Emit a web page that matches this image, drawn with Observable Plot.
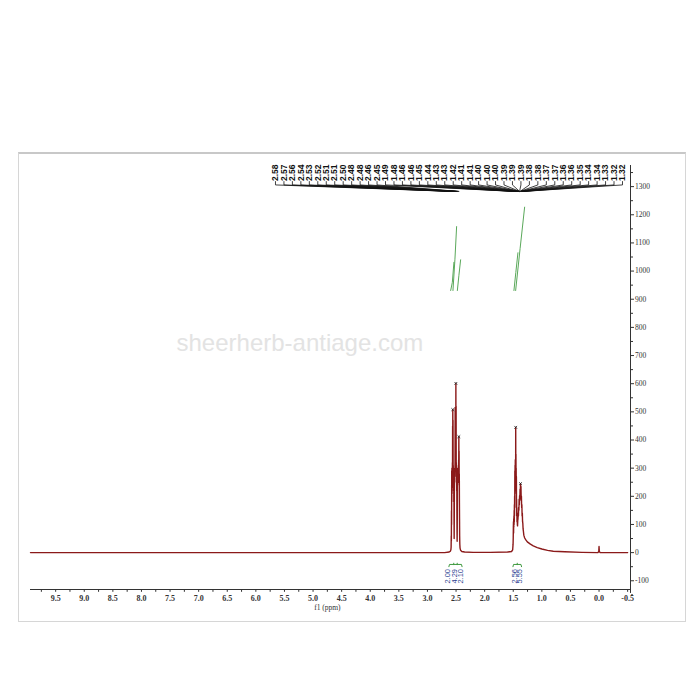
<!DOCTYPE html>
<html><head><meta charset="utf-8">
<script src="https://cdn.jsdelivr.net/npm/d3@7"></script>
<script src="https://cdn.jsdelivr.net/npm/@observablehq/plot@0.6"></script>
<style>
body{margin:0;background:#fff;}
#wrap{position:relative;width:700px;height:700px;overflow:hidden;color:#333;}
#frame{position:absolute;left:18px;top:152px;width:666px;height:467px;border:1px solid #d6d6d6;border-top:2px solid #c8c8c8;pointer-events:none;}
</style></head><body><div id="wrap"></div>
<script>
// ---- data ----
const watermark = "sheerherb-antiage.com";
const xTickValues = [9.5, 9.0, 8.5, 8.0, 7.5, 7.0, 6.5, 6.0, 5.5, 5.0, 4.5, 4.0, 3.5, 3.0, 2.5, 2.0, 1.5, 1.0, 0.5, 0.0, -0.5];
const yTickValues = [-100, 0, 100, 200, 300, 400, 500, 600, 700, 800, 900, 1000, 1100, 1200, 1300];
const peakLabels = ["2.58","2.57","2.56","2.54","2.53","2.52","2.51","2.51","2.50","2.48","2.48","2.46","2.45",
  "1.49","1.48","1.46","1.46","1.45","1.44","1.43","1.43","1.42","1.41","1.41","1.40","1.40","1.40",
  "1.39","1.39","1.39","1.38","1.38","1.37","1.37","1.36","1.36","1.35","1.34","1.34","1.33","1.32","1.32"];
const integralLabels = ["2.00","4.29","2.10","2.56","5.55"];
const integralLabelPpm = [2.64, 2.53, 2.415, 1.48, 1.395];
// spectrum trace [ppm, intensity]
const spectrum = [
  [9.94,0],[5.0,0],[2.70,0],[2.62,2],[2.60,5],[2.59,10],[2.586,20],[2.584,60],[2.582,40],[2.580,150],[2.578,100],
  [2.576,290],[2.574,180],[2.572,300],[2.570,210],[2.568,280],[2.566,230],[2.564,320],[2.562,260],[2.560,450],
  [2.558,280],[2.557,508],[2.555,290],[2.553,470],[2.551,270],[2.549,310],[2.547,250],[2.545,300],[2.543,220],
  [2.541,290],[2.539,180],[2.537,250],[2.535,110],[2.533,50],[2.531,120],[2.529,230],[2.527,260],[2.525,280],
  [2.523,250],[2.521,300],[2.519,270],[2.517,340],[2.515,516],[2.513,300],[2.511,470],[2.509,290],[2.507,350],
  [2.505,300],[2.503,601],[2.501,310],[2.499,520],[2.497,290],[2.495,320],[2.493,270],[2.491,300],[2.489,220],
  [2.487,270],[2.485,150],[2.483,80],[2.481,40],[2.479,90],[2.477,200],[2.475,270],[2.473,240],[2.471,290],
  [2.469,250],[2.467,300],[2.465,260],[2.463,290],[2.461,250],[2.459,310],[2.457,270],[2.455,330],[2.453,300],
  [2.451,412],[2.449,280],[2.447,360],[2.445,250],[2.443,280],[2.441,180],[2.439,120],[2.437,60],[2.434,30],
  [2.430,16],[2.420,8],[2.400,4],[2.350,2],[2.200,1],[1.900,1],[1.600,2],[1.530,4],[1.510,10],[1.503,30],
  [1.500,55],[1.498,90],[1.496,110],[1.494,70],[1.492,120],[1.490,90],[1.488,130],[1.486,100],[1.484,150],
  [1.482,110],[1.480,170],[1.478,130],[1.476,200],[1.474,160],[1.472,290],[1.470,220],[1.468,310],[1.466,240],
  [1.464,330],[1.462,260],[1.460,300],[1.458,280],[1.457,445],[1.455,280],[1.453,350],[1.451,260],[1.449,300],
  [1.447,210],[1.445,270],[1.443,160],[1.441,190],[1.439,130],[1.437,160],[1.434,110],[1.431,130],[1.428,100],
  [1.425,95],[1.421,114],[1.417,120],[1.413,140],[1.409,130],[1.405,160],[1.401,150],[1.397,190],[1.393,170],
  [1.389,202],[1.385,185],[1.381,225],[1.377,210],[1.373,245],[1.369,215],[1.365,235],[1.361,190],[1.357,200],
  [1.353,160],[1.349,170],[1.345,130],[1.341,140],[1.337,110],[1.333,105],[1.328,85],[1.322,75],[1.315,62],
  [1.300,52],[1.280,45],[1.254,38],[1.200,30],[1.150,24],[1.080,18],[1.000,13],[0.900,8],[0.800,5],[0.600,3],
  [0.300,1],[0.020,0],[0.005,4],[0.000,22],[-0.005,4],[-0.020,0],[-0.500,0]
];
const peakTips = [[2.557,508],[2.503,601],[2.451,412],[1.457,445],[1.373,245]];
// integral curves [id, ppm, value]
const integrals = [
  ["a",2.594,931],["a",2.565,960],["a",2.537,1031],
  ["b",2.554,931],["b",2.52,1040],["b",2.490,1158],
  ["c",2.477,931],["c",2.45,985],["c",2.420,1040],
  ["d",1.488,931],["d",1.455,995],["d",1.418,1065],
  ["e",1.458,931],["e",1.38,1080],["e",1.301,1227]
];
// integral brackets [id, ppm, value]
const brackets = [
  ["g1",2.625,-50],["g1",2.615,-42],["g1",2.405,-42],["g1",2.395,-50],
  ["g2",1.505,-50],["g2",1.495,-42],["g2",1.365,-42],["g2",1.355,-50]
];
const bracketMarks = [2.54, 2.48, 1.43];

// ---- layout helpers (positions, not data) ----
const labelPpm = peakLabels.map((d, i) => 5.657 + (-0.41 - 5.657) * i / (peakLabels.length - 1));
const treeRows = peakLabels.flatMap((d, i) => [
  {i, x: labelPpm[i], y: 1318},
  {i, x: labelPpm[i], y: 1306},
  {i, x: +d, y: 1283}
]);
const xMinor = d3.range(-0.5, 9.76, 0.25);
const yMinor = d3.range(-150, 1376, 50).filter(v => v % 100 !== 0);

const chart = Plot.plot({
  width: 700, height: 700,
  marginLeft: 30, marginRight: 70, marginTop: 165, marginBottom: 111,
  x: {domain: [9.94, -0.55], axis: null},
  y: {domain: [-131, 1375], axis: null},
  style: {background: "transparent", overflow: "visible"},
  marks: [
    Plot.text([watermark], {x: 5.23, y: 743, text: d => d, fontSize: 24, fill: "#e3e3e3", fontFamily: "Liberation Sans"}),
    // x axis
    Plot.ruleY([-131], {x1: 9.94, x2: -0.55, stroke: "#333"}),
    Plot.ruleX(xMinor, {x: d => d, y1: -131, y2: -141, stroke: "#333"}),
    Plot.axisX({anchor: "bottom", ticks: xTickValues, tickSize: 0, tickPadding: 6, tickFormat: d => d.toFixed(1),
      fontSize: 8, fontFamily: "Liberation Serif", fontWeight: "bold", label: null}),
    Plot.text(["f1 (ppm)"], {x: 4.75, y: -195, text: d => d, fontSize: 7.5, fontFamily: "Liberation Serif", fill: "#333"}),
    // y axis
    Plot.ruleX([-0.55], {y1: -145, y2: 1375, stroke: "#333"}),
    Plot.axisY({anchor: "right", ticks: yTickValues, tickSize: 3, tickPadding: 1.5,
      tickFormat: d => d < 0 ? "-" + (-d) : String(d), fontSize: 7.5, fontFamily: "Liberation Serif", label: null}),
    Plot.axisY({anchor: "right", ticks: yMinor, tickSize: 2, tickFormat: () => "", label: null}),
    // spectrum
    Plot.line(spectrum, {x: d => d[0], y: d => d[1], stroke: "#8b1a1a", strokeWidth: 1.4}),
    Plot.dot(peakTips, {x: d => d[0], y: d => d[1], symbol: "times", r: 1.4, stroke: "#222", strokeWidth: 0.8}),
    // integrals
    Plot.line(integrals, {x: d => d[1], y: d => d[2], z: d => d[0], stroke: "#5aa85a", strokeWidth: 1}),
    Plot.line(brackets, {x: d => d[1], y: d => d[2], z: d => d[0], stroke: "#3f9a3f", strokeWidth: 1}),
    Plot.ruleX(bracketMarks, {x: d => d, y1: -38, y2: -46, stroke: "#3f9a3f"}),
    Plot.text(integralLabels, {x: (d, i) => integralLabelPpm[i], y: -110, text: d => d, rotate: -90, textAnchor: "start",
      fontSize: 7.5, fontFamily: "Liberation Sans", fill: "#2b3f91"}),
    // peak labels
    Plot.line(treeRows, {x: "x", y: "y", z: "i", stroke: "#111", strokeWidth: 0.8}),
    Plot.text(peakLabels, {x: (d, i) => labelPpm[i], y: 1320, text: d => d, rotate: -90, textAnchor: "start",
      fontSize: 8.5, fontFamily: "Liberation Sans", fontWeight: "bold", fill: "#111"})
  ]
});
const wrap = document.getElementById("wrap");
wrap.appendChild(chart);
const frame = document.createElement("div");
frame.id = "frame";
wrap.appendChild(frame);
</script>
</body></html>
